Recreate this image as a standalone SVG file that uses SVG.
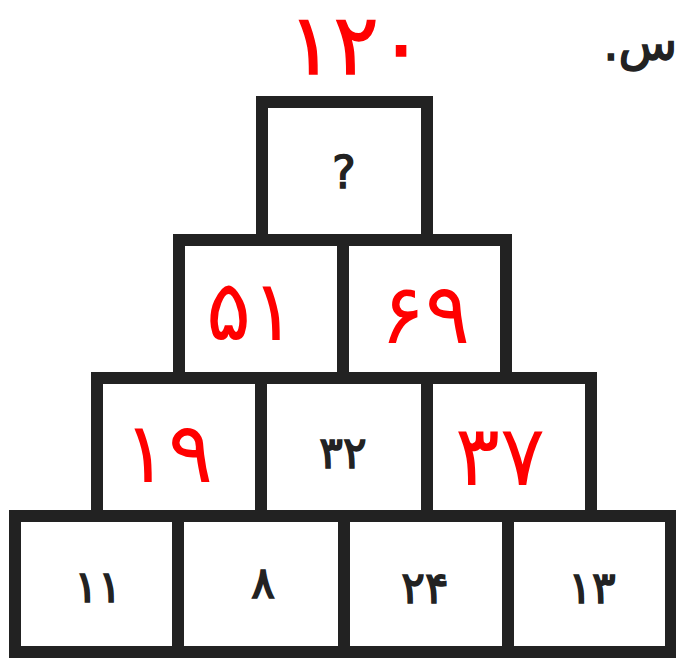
<svg xmlns="http://www.w3.org/2000/svg" width="676" height="658" viewBox="0 0 676 658">
<style>
.box{fill:#fff;stroke:#222;stroke-width:12}
.red{fill:#f00;font-family:"DejaVu Sans",sans-serif;font-size:84px;text-anchor:middle}
.blk{fill:#222;stroke:#222;stroke-width:1.6;font-family:"DejaVu Sans",sans-serif;font-size:44px;text-anchor:middle}
</style>
<rect width="676" height="658" fill="#fff"/>
<text x="677" y="60" direction="rtl" fill="#222" stroke="#222" stroke-width="1.5" font-family="DejaVu Sans,sans-serif" font-size="48">س.</text>
<text class="red" x="356" y="74" font-size="72" stroke="#f00" stroke-width="1.5" letter-spacing="24">۱۲۰</text>
<g id="connectors"></g>
<g id="n1"><rect class="box" x="262" y="102" width="165" height="138"/><text class="blk" x="344" y="188" font-size="46" stroke-width="0.8">?</text></g>
<g id="n2a"><rect class="box" x="179" y="240" width="164" height="138"/><text class="red" x="251" y="340" letter-spacing="16">۵۱</text></g>
<g id="n2b"><rect class="box" x="343" y="240" width="163" height="138"/><text class="red" x="425" y="343" letter-spacing="10">۶۹</text></g>
<g id="n3a"><rect class="box" x="97" y="378" width="164" height="138"/><text class="red" x="168" y="482" letter-spacing="16">۱۹</text></g>
<g id="n3b"><rect class="box" x="261" y="378" width="166" height="138"/><text class="blk" x="343" y="468">۳۲</text></g>
<g id="n3c"><rect class="box" x="427" y="378" width="164" height="138"/><text class="red" x="500" y="485" letter-spacing="6">۳۷</text></g>
<g id="n4a"><rect class="box" x="15" y="516" width="163" height="136"/><text class="blk" x="98" y="602" letter-spacing="-6">۱۱</text></g>
<g id="n4b"><rect class="box" x="178" y="516" width="166" height="136"/><text class="blk" x="263" y="598">۸</text></g>
<g id="n4c"><rect class="box" x="344" y="516" width="164" height="136"/><text class="blk" x="425" y="603">۲۴</text></g>
<g id="n4d"><rect class="box" x="508" y="516" width="163" height="136"/><text class="blk" x="592" y="603">۱۳</text></g>
</svg>
